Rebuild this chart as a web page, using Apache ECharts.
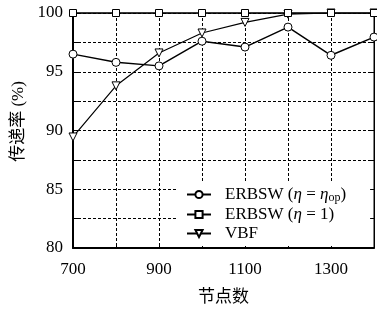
<!DOCTYPE html>
<html>
<head>
<meta charset="utf-8">
<script src="https://cdn.jsdelivr.net/npm/echarts@6/dist/echarts.min.js"></script>
<style>
  html, body { margin: 0; padding: 0; background: #fff; }
  #chart { width: 377px; height: 311px; }
</style>
</head>
<body>
<div id="chart"></div>
<script>
// 节点数
const nodes = [700, 800, 900, 1000, 1100, 1200, 1300, 1400];
// 传递率 (%)
const erbswOpt = [96.5, 95.8, 95.5, 97.6, 97.1, 98.8, 96.4, 97.95];
const erbswOne = [100, 100, 100, 100, 100, 100, 100, 100];
const vbf = [89.45, 93.8, 96.6, 98.3, 99.2, 99.9, 100, 100];
const xTickLabels = [700, 900, 1100, 1300];
const yTickLabels = [80, 85, 90, 95, 100];

const serif = "'Liberation Serif', 'Noto Sans CJK SC', serif";

function pairs(vals) {
  return nodes.map((n, i) => [n, vals[i]]);
}

const chart = echarts.init(document.getElementById("chart"));

const lineStyle = { color: "#000", width: 1.5 };
const markerStyle = { color: "#fff", borderColor: "#000", borderWidth: 1 };
const txt = { fontFamily: serif, fontSize: 17, color: "#000" };
const dashed = { show: true, lineStyle: { color: "#000", type: [3, 2], width: 1 } };

chart.setOption({
  animation: false,
  grid: {
    left: 73,
    right: 2,
    top: 13,
    bottom: 61,
    show: true,
    borderColor: "#000",
    borderWidth: 1,
  },
  legend: {
    orient: "vertical",
    left: 178,
    top: 181,
    backgroundColor: "#fff",
    padding: [5, 24, 4, 8],
    itemWidth: 24,
    itemHeight: 9,
    itemGap: 2,
    textStyle: {
      ...txt,
      rich: {
        s: { width: 9 },
        i: { ...txt, fontStyle: "italic" },
        sub: { fontFamily: serif, fontSize: 12, color: "#000", verticalAlign: "bottom", padding: [7, 0, 0, 0] },
      },
    },
    formatter: function (name) {
      if (name === "opt") return "{s|}ERBSW ({i|η} = {i|η}{sub|op})";
      if (name === "one") return "{s|}ERBSW ({i|η} = 1)";
      return "{s|}VBF";
    },
    data: ["opt", "one", "vbf"],
  },
  xAxis: {
    type: "value",
    min: 700,
    max: 1400,
    interval: 100,
    name: "节点数",
    nameLocation: "middle",
    nameGap: 41,
    nameTextStyle: txt,
    axisLine: { lineStyle: { color: "#000", width: 2 } },
    axisTick: { inside: true, length: 5, lineStyle: { color: "#000" } },
    axisLabel: {
      ...txt,
      margin: 13,
      formatter: (v) => (xTickLabels.includes(v) ? String(v) : ""),
    },
    splitLine: dashed,
  },
  yAxis: [
    {
      type: "value",
      min: 80,
      max: 100,
      interval: 2.5,
      name: "传递率 (%)",
      nameLocation: "middle",
      nameGap: 37,
      nameTextStyle: { ...txt, padding: [0, 0, 0, 18] },
      axisLine: { show: true, lineStyle: { color: "#000", width: 2 } },
      axisTick: { show: true, inside: true, length: 5, lineStyle: { color: "#000" } },
      axisLabel: {
        ...txt,
        margin: 10,
        formatter: (v) => (yTickLabels.includes(v) ? String(v) : ""),
      },
      splitLine: dashed,
    },
    {
      type: "value",
      position: "right",
      min: 80,
      max: 100,
      interval: 2.5,
      axisLine: { show: true, lineStyle: { color: "#000", width: 1 } },
      axisTick: { show: true, inside: true, length: 4, lineStyle: { color: "#000" } },
      axisLabel: { show: false },
      splitLine: { show: false },
    },
  ],
  series: [
    {
      name: "opt",
      type: "line",
      data: pairs(erbswOpt),
      symbol: "circle",
      symbolSize: 8,
      lineStyle: lineStyle,
      itemStyle: markerStyle,
      z: 5,
    },
    {
      name: "one",
      type: "line",
      data: pairs(erbswOne),
      symbol: "rect",
      symbolSize: 7,
      lineStyle: lineStyle,
      itemStyle: markerStyle,
      z: 4,
    },
    {
      name: "vbf",
      type: "line",
      data: pairs(vbf),
      symbol: "triangle",
      symbolRotate: 180,
      symbolSize: 8,
      lineStyle: { color: "#000", width: 1.2 },
      itemStyle: markerStyle,
      z: 3,
    },
  ],
});
</script>
</body>
</html>
